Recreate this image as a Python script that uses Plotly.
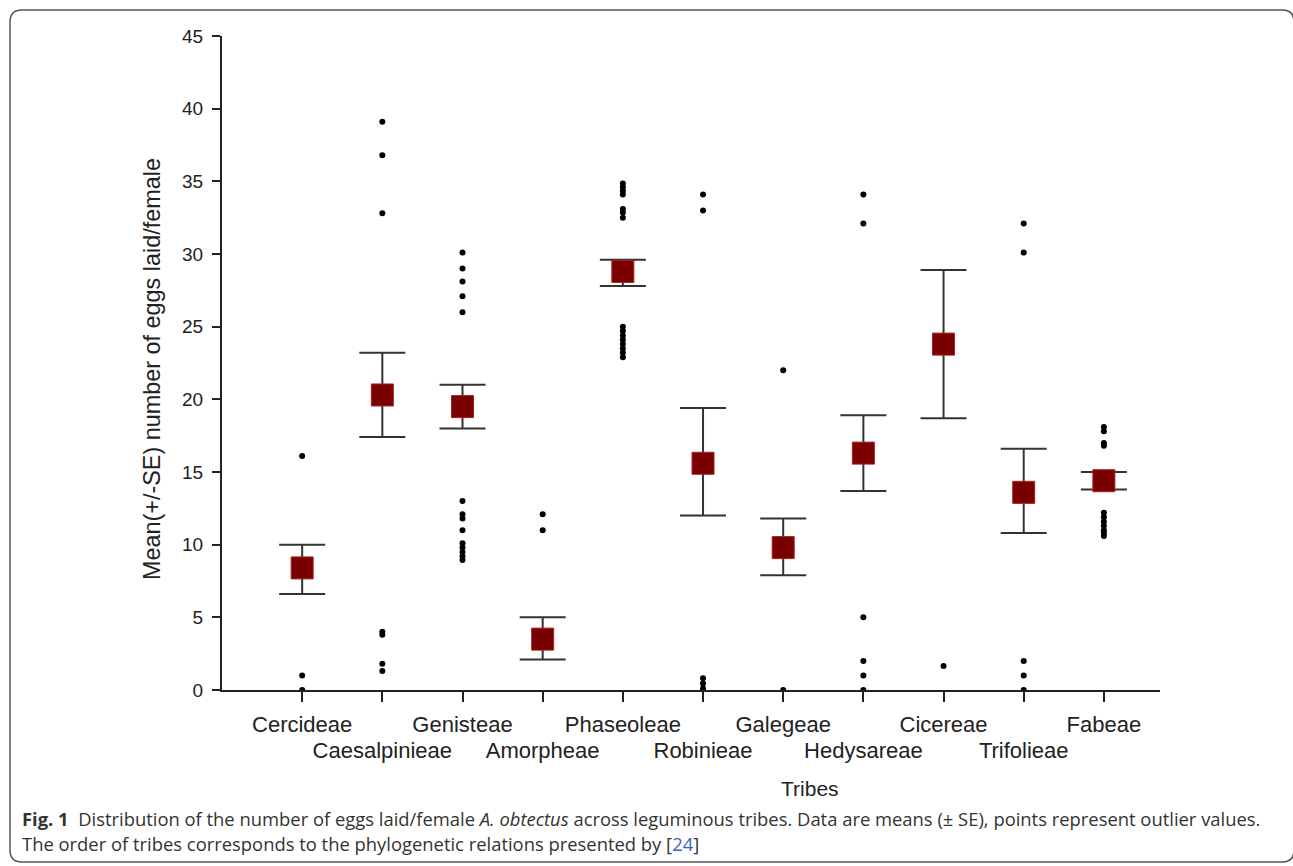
import plotly.graph_objects as go

# ---------------- data ----------------
tribes = ["Cercideae", "Caesalpinieae", "Genisteae", "Amorpheae", "Phaseoleae",
          "Robinieae", "Galegeae", "Hedysareae", "Cicereae", "Trifolieae", "Fabeae"]
means = [8.4, 20.3, 19.5, 3.5, 28.8, 15.6, 9.8, 16.3, 23.8, 13.6, 14.4]
upper = [10.0, 23.2, 21.0, 5.0, 29.6, 19.4, 11.8, 18.9, 28.9, 16.6, 15.0]
lower = [6.6, 17.4, 18.0, 2.1, 27.8, 12.0, 7.9, 13.7, 18.7, 10.8, 13.8]
outliers = {
    "Cercideae": [16.1, 1.0, 0.0],
    "Caesalpinieae": [39.1, 36.8, 32.8, 4.0, 3.8, 1.8, 1.3],
    "Genisteae": [30.1, 29.0, 28.1, 27.1, 26.0, 13.0, 12.1, 11.8, 11.0, 10.1, 9.8, 9.5, 9.2, 8.95],
    "Amorpheae": [12.1, 11.0],
    "Phaseoleae": [34.85, 34.6, 34.35, 34.1, 33.1, 32.85, 32.5,
                   25.0, 24.7, 24.4, 24.1, 23.8, 23.5, 23.2, 22.9],
    "Robinieae": [34.1, 33.0, 0.8, 0.45, 0.1],
    "Galegeae": [22.0, 0.0],
    "Hedysareae": [34.1, 32.1, 5.0, 2.0, 1.0, 0.0],
    "Cicereae": [1.65],
    "Trifolieae": [32.1, 30.1, 2.0, 1.0, 0.0],
    "Fabeae": [18.1, 17.8, 17.0, 16.8, 12.2, 11.9, 11.6, 11.3, 11.0, 10.8, 10.6],
}
y_ticks = [0, 5, 10, 15, 20, 25, 30, 35, 40, 45]

# ---------------- figure ----------------
W, H = 1293, 866
ML, MR, MT, MB = 222, 133, 36, 176
PW, PH = W - ML - MR, H - MT - MB

pos = list(range(len(tribes)))
font_fam = "Liberation Sans, Arial, sans-serif"
cap_fam = "Open Sans, sans-serif"

fig = go.Figure()

# outlier points
ox, oy = [], []
for i, t in enumerate(tribes):
    for v in outliers[t]:
        ox.append(i)
        oy.append(v)
fig.add_trace(go.Scatter(x=ox, y=oy, mode="markers",
                         marker=dict(symbol="circle", size=6, color="black"),
                         showlegend=False, hoverinfo="y"))

# means with SE bars
fig.add_trace(go.Scatter(
    x=pos, y=means, mode="markers",
    marker=dict(symbol="square", size=22, color="#7a0000",
                line=dict(color="#a82020", width=1)),
    error_y=dict(type="data", symmetric=False,
                 array=[u - m for u, m in zip(upper, means)],
                 arrayminus=[m - l for m, l in zip(means, lower)],
                 color="#333333", thickness=2, width=23),
    showlegend=False))

def px2x(p):
    return (p - ML) / PW

def py2y(p):
    return (H - MB - p) / PH

# rounded frame around figure
L, T, R, B, r = 10, 10, 1294, 862, 12
path = (f"M {px2x(L)} {py2y(T + r)} "
        f"Q {px2x(L)} {py2y(T)} {px2x(L + r)} {py2y(T)} "
        f"L {px2x(R - r)} {py2y(T)} "
        f"Q {px2x(R)} {py2y(T)} {px2x(R)} {py2y(T + r)} "
        f"L {px2x(R)} {py2y(B - r)} "
        f"Q {px2x(R)} {py2y(B)} {px2x(R - r)} {py2y(B)} "
        f"L {px2x(L + r)} {py2y(B)} "
        f"Q {px2x(L)} {py2y(B)} {px2x(L)} {py2y(B - r)} Z")
fig.add_shape(type="path", path=path, xref="paper", yref="paper",
              line=dict(color="#555555", width=1.5), layer="below")

row1 = [t if i % 2 == 0 else "" for i, t in enumerate(tribes)]
odd_pos = [i for i in pos if i % 2 == 1]
odd_names = [tribes[i] for i in odd_pos]

fig.update_layout(
    width=W, height=H,
    margin=dict(l=ML, r=MR, t=MT, b=MB, autoexpand=False),
    paper_bgcolor="white", plot_bgcolor="white",
    font=dict(family=font_fam, color="#222222"),
    xaxis=dict(range=[-1, 10.7], tickmode="array", tickvals=pos, ticktext=row1,
               ticks="outside", ticklen=10, tickwidth=1.5, tickcolor="#222",
               showline=True, linewidth=2, linecolor="#222",
               showgrid=False, zeroline=False,
               tickfont=dict(size=22, family=font_fam, color="#222"),
               ticklabelstandoff=4),
    xaxis2=dict(range=[-1, 10.7], overlaying="x", anchor="y", side="bottom",
                tickmode="array", tickvals=odd_pos, ticktext=odd_names,
                ticks="", showline=False, showgrid=False, zeroline=False,
                tickfont=dict(size=22, family=font_fam, color="#222"),
                ticklabelstandoff=45),
    yaxis=dict(range=[0, 45], tickmode="array", tickvals=y_ticks,
               ticks="outside", ticklen=8, tickwidth=1.5, tickcolor="#222",
               showline=True, linewidth=2, linecolor="#222",
               showgrid=False, zeroline=False,
               tickfont=dict(size=19, family=font_fam, color="#222"),
               ticklabelstandoff=5),
)

# dummy trace to activate xaxis2
fig.add_trace(go.Scatter(x=[None], y=[None], xaxis="x2", yaxis="y",
                         showlegend=False, hoverinfo="skip"))

annots = [
    dict(text="Tribes", x=px2x(810), y=py2y(788), xref="paper", yref="paper",
         showarrow=False, font=dict(size=21, family=font_fam, color="#222"),
         xanchor="center", yanchor="middle"),
    dict(text="Mean(+/-SE) number of eggs laid/female", textangle=-90,
         x=px2x(152), y=py2y(369), xref="paper", yref="paper",
         showarrow=False, font=dict(size=23.4, family=font_fam, color="#222"),
         xanchor="center", yanchor="middle"),
    dict(text="<b>Fig. 1</b>  Distribution of the number of eggs laid/female <i>A. obtectus</i> across "
              "leguminous tribes. Data are means (± SE), points represent outlier values.",
         x=px2x(20), y=py2y(818), xref="paper", yref="paper", showarrow=False,
         font=dict(size=18.4, family=cap_fam, color="#333"),
         xanchor="left", yanchor="middle"),
    dict(text="The order of tribes corresponds to the phylogenetic relations presented by "
              "[<span style='color:#3a5fcd'>24</span>]",
         x=px2x(20), y=py2y(843), xref="paper", yref="paper", showarrow=False,
         font=dict(size=18.4, family=cap_fam, color="#333"),
         xanchor="left", yanchor="middle"),
]
fig.update_layout(annotations=annots)

fig.write_html("out.html", config={"displayModeBar": False},
               post_script="document.body.style.margin='0';document.body.style.padding='0';")
